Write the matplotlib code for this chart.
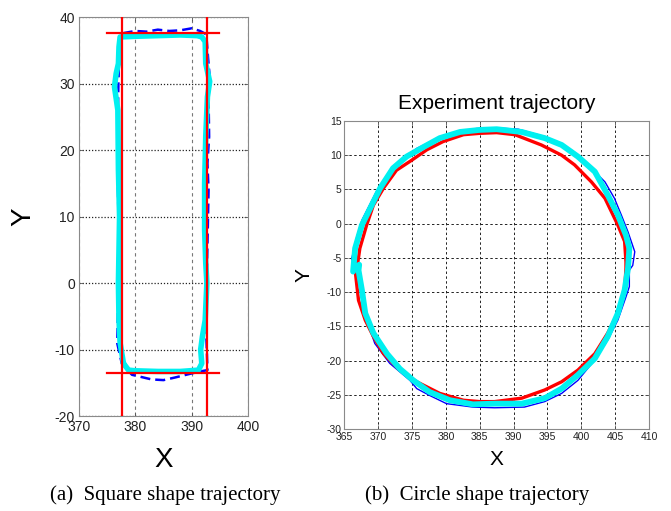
import matplotlib
matplotlib.use('Agg')
import matplotlib.pyplot as plt

plt.rcParams['font.family'] = ['Liberation Sans', 'DejaVu Sans']
plt.rcParams['axes.unicode_minus'] = False

# square shape trajectory (a)
sq_ref_x = [377.6, 392.7]          # vertical reference lines
sq_ref_y = [37.6, -13.5]           # horizontal reference lines
sq_ref_span = [375.0, 394.9]

sq_cyan_x = [377.9, 377.3, 377.1, 377.0, 377.1, 377.2, 377.0, 376.9, 376.3, 376.6, 377.0, 377.1, 377.3,
             380.0, 384.0, 388.0, 391.0, 391.8, 392.4, 392.5, 393.2, 392.8, 392.5, 392.3, 392.3, 392.5,
             392.7, 392.4, 391.9, 391.6, 391.8, 391.2, 388.0, 384.0, 380.0, 378.8, 377.9]
sq_cyan_y = [-12.1, -9.0, -5.6, 0.0, 5.0, 10.0, 17.0, 26.0, 29.5, 31.5, 33.0, 35.5, 37.0,
             37.1, 37.2, 37.3, 37.2, 37.0, 36.3, 33.0, 30.3, 28.0, 22.0, 15.0, 8.0, 3.0,
             0.0, -5.6, -8.1, -10.0, -12.1, -13.1, -13.3, -13.3, -13.2, -13.1, -12.1]

sq_blue_x = [377.0, 376.8, 377.6, 379.4, 382.9, 385.0, 387.1, 389.0, 391.5, 392.8,
             392.5, 392.7, 393.0, 392.8, 393.1, 393.0, 393.2, 392.9, 392.6, 391.5, 390.0,
             388.0, 386.0, 384.0, 382.0, 380.0, 378.0, 377.2, 377.0, 376.8, 377.0, 377.0]
sq_blue_y = [0.0, -9.1, -12.1, -13.8, -14.5, -14.6, -14.2, -13.8, -13.3, -13.1,
             -5.0, 1.5, 14.0, 18.0, 22.0, 28.0, 31.0, 34.0, 37.4, 37.9, 38.3,
             38.0, 37.9, 38.1, 37.8, 37.9, 37.6, 37.0, 30.0, 20.0, 10.0, 0.0]

# circle shape trajectory (b)
ci_cyan_x = [366.3, 366.6, 367.6, 368.8, 370.3, 372.2, 374.2, 376.7, 379.1, 382.1, 385.0, 387.5,
             391.2, 394.6, 397.1, 399.5, 402.0, 403.9, 405.4, 406.6, 407.1, 406.9,
             406.4, 405.4, 403.9, 402.0, 399.5, 397.1, 394.6, 391.2, 387.2,
             384.0, 380.6, 377.6, 375.2, 373.2, 371.3, 369.3, 368.1, 367.6, 367.1, 367.2]
ci_cyan_y = [-7.0, -3.6, -0.2, 2.2, 5.2, 8.1, 9.8, 11.2, 12.5, 13.4, 13.7, 13.8,
             13.4, 12.5, 11.5, 9.8, 7.6, 4.2, 1.3, -1.7, -3.6, -6.5,
             -9.7, -13.1, -16.5, -19.7, -22.1, -24.1, -25.5, -26.3, -26.3,
             -26.4, -25.8, -24.6, -22.9, -21.2, -19.0, -16.0, -13.1, -9.7, -6.8, -6.0]

ci_red_x = [366.6, 366.8, 367.3, 368.3, 369.3, 370.8, 372.7, 374.7, 377.2, 379.6, 382.6, 385.0, 387.5,
            390.2, 394.1, 397.1, 399.0, 401.5, 403.5, 405.4, 406.4, 406.6, 406.6,
            406.4, 405.4, 403.9, 402.0, 399.5, 397.1, 394.6, 391.2, 387.2,
            385.0, 382.6, 379.1, 375.7, 373.2, 370.8, 369.3, 368.1, 367.1, 366.6]
ci_red_y = [-6.8, -7.0, -3.6, -0.2, 2.7, 5.2, 7.8, 9.1, 10.8, 12.0, 13.0, 13.2, 13.3,
            13.0, 11.5, 10.0, 8.6, 6.1, 3.7, -0.2, -2.6, -5.6, -6.5,
            -9.7, -13.1, -16.0, -19.0, -21.4, -23.1, -24.3, -25.5, -26.0,
            -26.0, -25.8, -24.8, -23.1, -21.4, -19.0, -16.5, -14.1, -11.2, -6.8]

ci_blue_x = [366.1, 366.8, 367.6, 369.8, 372.7, 375.7, 380.0, 384.5, 387.2, 390.7, 393.6, 395.6,
             398.5, 400.0, 402.0, 403.5, 404.9, 405.9, 406.9, 407.9, 407.6, 407.1, 407.1,
             406.6, 405.4, 403.9, 402.0, 399.5, 397.1, 394.6, 391.6, 387.2, 384.0,
             380.1, 377.6, 375.7, 374.7, 371.7, 369.5, 368.3, 367.5, 366.8, 366.1]
ci_blue_y = [-5.1, -2.1, 0.5, 4.8, 8.5, 11.0, 13.0, 13.9, 14.0, 13.8, 13.0, 12.2,
             10.8, 9.5, 7.6, 6.1, 3.7, 1.3, -1.2, -4.1, -6.1, -6.8, -9.2,
             -10.7, -14.1, -17.0, -19.9, -22.9, -24.8, -26.0, -26.8, -26.9, -26.8,
             -26.3, -25.1, -24.1, -22.9, -20.4, -17.5, -14.0, -10.5, -7.0, -5.1]

sq_xticks = [370, 380, 390, 400]
sq_yticks = [-20, -10, 0, 10, 20, 30, 40]
ci_xticks = list(range(365, 411, 5))
ci_yticks = list(range(-30, 16, 5))

fig = plt.figure(figsize=(6.71, 5.11), dpi=100)


def style_axes(ax, fs, pad):
	for s in ax.spines.values():
		s.set_color('#8a8a8a')
		s.set_linewidth(0.8)
	ax.tick_params(direction='in', length=3, width=0.6, color='#555555',
		labelsize=fs, labelcolor='#222222', pad=pad, top=True, right=True)


# (a)
ax1 = fig.add_axes([0.1177, 0.1859, 0.2519, 0.7808])
ax1.plot(sq_blue_x, sq_blue_y, color='#0000ff', lw=1.8, ls=(0, (4, 2)), zorder=2)
ax1.plot(sq_cyan_x, sq_cyan_y, color='#00f0f0', lw=4, solid_joinstyle='round',
	solid_capstyle='round', zorder=3)
for xv in sq_ref_x:
	ax1.axvline(xv, color='#ff0000', lw=1.6, zorder=4)
for yv in sq_ref_y:
	ax1.plot(sq_ref_span, [yv, yv], color='#ff0000', lw=1.6, zorder=4)
ax1.set_xlim(370, 400)
ax1.set_ylim(-20, 40)
ax1.set_xticks(sq_xticks)
ax1.set_yticks(sq_yticks)
ax1.xaxis.grid(True, color='#777777', ls=(0, (3, 3)), lw=0.8)
ax1.yaxis.grid(True, color='#222222', ls=(0, (1, 1.5)), lw=0.9)
style_axes(ax1, 10, 3)
ax1.set_xlabel('X', fontsize=20, labelpad=9)
ax1.set_ylabel('Y', fontsize=20, labelpad=13)

# (b)
ax2 = fig.add_axes([0.5131, 0.1605, 0.4541, 0.6027])
ax2.plot(ci_blue_x, ci_blue_y, color='#0000ff', lw=1.0, zorder=2)
ax2.plot(ci_red_x, ci_red_y, color='#ff0000', lw=2.4, zorder=3)
ax2.plot(ci_cyan_x, ci_cyan_y, color='#00f0f0', lw=4.2, solid_joinstyle='round',
	solid_capstyle='round', zorder=4)
ax2.set_xlim(365, 410)
ax2.set_ylim(-30, 15)
ax2.set_xticks(ci_xticks)
ax2.set_yticks(ci_yticks)
ax2.grid(True, color='#222222', ls=(0, (2.5, 2.5)), lw=0.7)
style_axes(ax2, 7.5, 2)
ax2.set_title('Experiment trajectory', fontsize=15, pad=9)
ax2.set_xlabel('X', fontsize=15, labelpad=6)
ax2.set_ylabel('Y', fontsize=15, labelpad=9)

fig.text(0.246, 0.031, '(a)  Square shape trajectory', fontsize=15,
	family=['Liberation Serif'], ha='center', va='center')
fig.text(0.711, 0.031, '(b)  Circle shape trajectory', fontsize=15,
	family=['Liberation Serif'], ha='center', va='center')

fig.savefig('out.png', dpi=100)
